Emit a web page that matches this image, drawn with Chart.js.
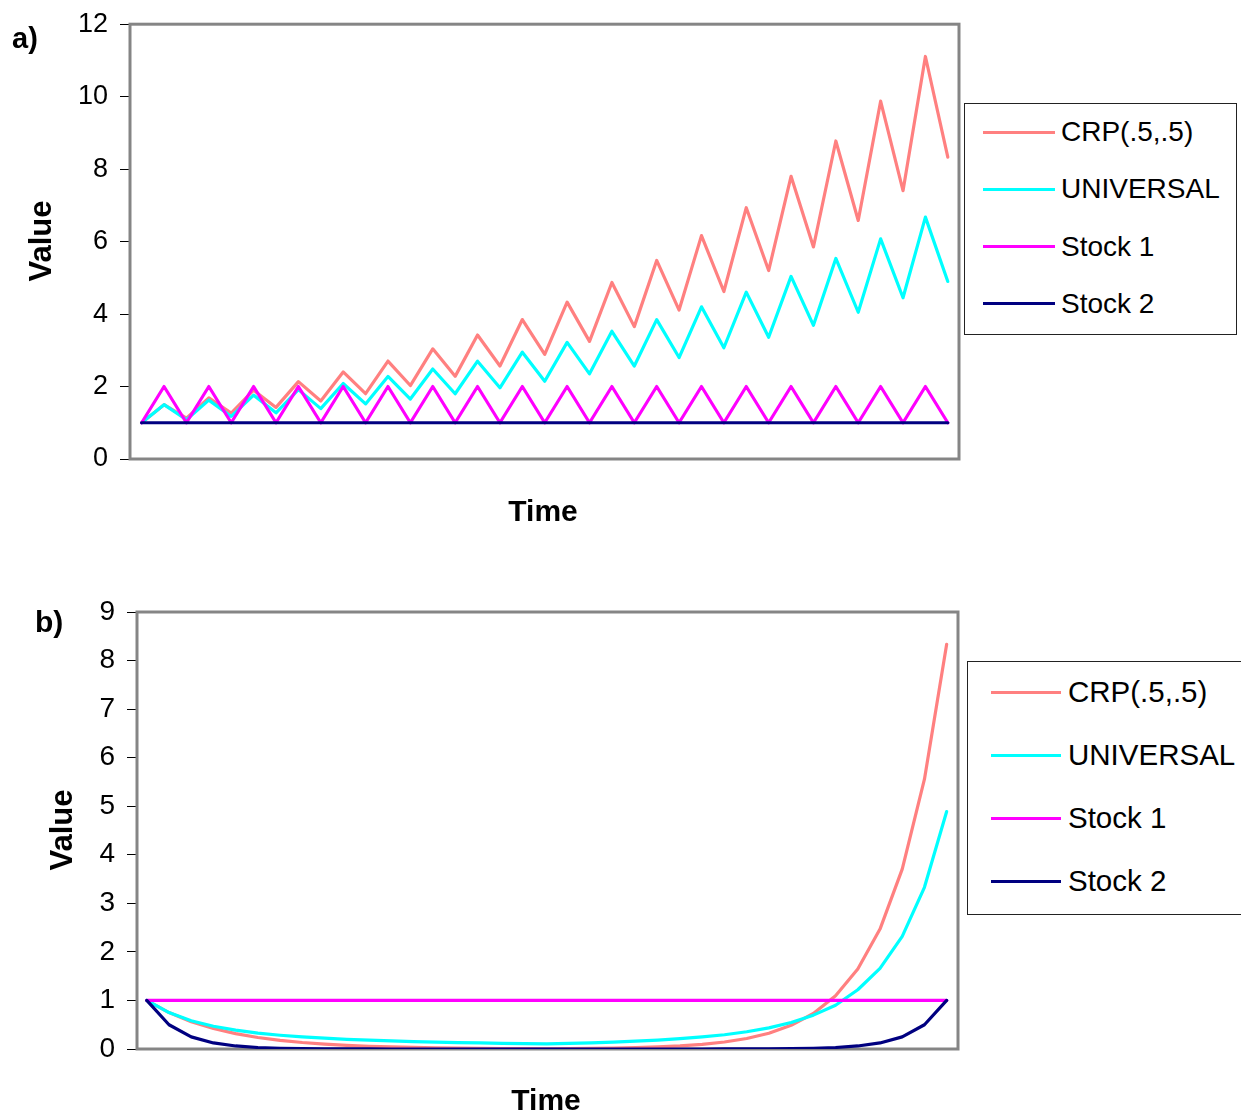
<!DOCTYPE html>
<html>
<head>
<meta charset="utf-8">
<script src="https://cdn.jsdelivr.net/npm/chart.js@4.4.1/dist/chart.umd.min.js"></script>
<style>
  html, body { margin: 0; padding: 0; background: #fff; }
  body { width: 1241px; height: 1116px; position: relative; overflow: hidden;
         font-family: "Liberation Sans", Arial, sans-serif; color: #000; }
  .abs { position: absolute; white-space: nowrap; line-height: 1; }
  .center { transform: translate(-50%, -50%); }
  .bold { font-weight: bold; }
  .rot { transform: translate(-50%, -50%) rotate(-90deg); }
  .legend { position: absolute; border: 1px solid #222; background: #fff; box-sizing: border-box; }
  .legend .ln { position: absolute; height: 3px; }
  .legend .tx { position: absolute; line-height: 1; transform: translateY(-50%); white-space: nowrap; }
  canvas { position: absolute; left: 0; }
</style>
</head>
<body>
<canvas id="chartA" width="1241" height="544" style="top:-4px"></canvas>
<canvas id="chartB" width="1241" height="556" style="top:560px"></canvas>

<div class="abs bold" style="left:12px; top:24px; font-size:29px;">a)</div>
<div class="abs bold rot" style="left:40px; top:241px; font-size:31px;">Value</div>
<div class="abs bold center" style="left:543px; top:511px; font-size:30px;">Time</div>

<div class="abs bold" style="left:35px; top:607px; font-size:30px;">b)</div>
<div class="abs bold rot" style="left:61px; top:830px; font-size:31px;">Value</div>
<div class="abs bold center" style="left:546px; top:1100px; font-size:30px;">Time</div>

<div id="legendA" class="legend" style="left:964px; top:103px; width:273px; height:232px;"></div>
<div id="legendB" class="legend" style="left:967px; top:661px; width:300px; height:254px;"></div>

<script>
// ---------- data ----------
const seriesNames = ["CRP(.5,.5)", "UNIVERSAL", "Stock 1", "Stock 2"];
const seriesColors = ["#FF8080", "#00FFFF", "#FF00FF", "#000080"];

const timeSteps = [0,1,2,3,4,5,6,7,8,9,10,11,12,13,14,15,16,17,18,19,20,21,22,23,24,25,26,27,28,29,30,31,32,33,34,35,36];

// Panel a)
const aCRP = [1, 1.5, 1.125, 1.6875, 1.2656, 1.8984, 1.4238, 2.1357, 1.6018, 2.4027, 1.802, 2.703, 2.0273, 3.0409, 2.2807, 3.421, 2.5658, 3.8487, 2.8865, 4.3298, 3.2473, 4.871, 3.6532, 5.4798, 4.1099, 6.1648, 4.6236, 6.9354, 5.2016, 7.8023, 5.8518, 8.7776, 6.5833, 9.875, 7.4062, 11.1093, 8.3319];
const aUniversal = [1, 1.5, 1.083, 1.625, 1.175, 1.763, 1.276, 1.914, 1.39, 2.085, 1.52, 2.28, 1.655, 2.483, 1.8, 2.7, 1.965, 2.948, 2.145, 3.218, 2.35, 3.525, 2.565, 3.848, 2.8, 4.2, 3.07, 4.605, 3.36, 5.04, 3.69, 5.535, 4.05, 6.075, 4.45, 6.675, 4.9];
const aStock1 = [1, 2, 1, 2, 1, 2, 1, 2, 1, 2, 1, 2, 1, 2, 1, 2, 1, 2, 1, 2, 1, 2, 1, 2, 1, 2, 1, 2, 1, 2, 1, 2, 1, 2, 1, 2, 1];
const aStock2 = [1, 1, 1, 1, 1, 1, 1, 1, 1, 1, 1, 1, 1, 1, 1, 1, 1, 1, 1, 1, 1, 1, 1, 1, 1, 1, 1, 1, 1, 1, 1, 1, 1, 1, 1, 1, 1];
const aTicks = [0, 2, 4, 6, 8, 10, 12];

// Panel b)
const bCRP = [1, 0.75, 0.5625, 0.4219, 0.3164, 0.2373, 0.178, 0.1335, 0.1001, 0.0751, 0.0563, 0.0422, 0.0317, 0.0238, 0.0178, 0.0134, 0.01, 0.0075, 0.0056, 0.0085, 0.0127, 0.019, 0.0286, 0.0428, 0.0642, 0.0964, 0.1445, 0.2168, 0.3252, 0.4878, 0.7317, 1.0976, 1.6464, 2.4696, 3.7044, 5.5566, 8.3349];
const bUniversal = [1, 0.75, 0.583, 0.469, 0.3875, 0.328, 0.2835, 0.249, 0.222, 0.2, 0.182, 0.1667, 0.1538, 0.1429, 0.1333, 0.125, 0.1176, 0.1111, 0.1053, 0.1158, 0.128, 0.143, 0.161, 0.184, 0.212, 0.248, 0.294, 0.355, 0.436, 0.545, 0.697, 0.9, 1.22, 1.66, 2.32, 3.33, 4.89];
const bStock1 = [1, 1, 1, 1, 1, 1, 1, 1, 1, 1, 1, 1, 1, 1, 1, 1, 1, 1, 1, 1, 1, 1, 1, 1, 1, 1, 1, 1, 1, 1, 1, 1, 1, 1, 1, 1, 1];
const bStock2 = [1, 0.5, 0.25, 0.125, 0.0625, 0.03125, 0.015625, 0.0078, 0.0039, 0.00195, 0.00098, 0.00049, 0.00024, 0.00012, 0.00006, 0.00003, 0.000015, 0.0000076, 0.0000038, 0.0000076, 0.000015, 0.00003, 0.00006, 0.00012, 0.00024, 0.00049, 0.00098, 0.00195, 0.0039, 0.0078, 0.015625, 0.03125, 0.0625, 0.125, 0.25, 0.5, 1];
const bTicks = [0, 1, 2, 3, 4, 5, 6, 7, 8, 9];

// ---------- helpers ----------
Chart.defaults.font.family = '"Liberation Sans", Arial, sans-serif';
Chart.defaults.color = '#000';

const framePlugin = {
  id: 'frame',
  beforeDatasetsDraw(chart) {
    const { ctx, chartArea: { left, top, right, bottom } } = chart;
    ctx.save();
    ctx.strokeStyle = '#858585';
    ctx.lineWidth = 3;
    ctx.strokeRect(left, top, right - left, bottom - top);
    ctx.restore();
  }
};

function makeDatasets(seriesList) {
  return seriesList.map((vals, k) => ({
    label: seriesNames[k],
    data: vals.map((v, i) => ({ x: timeSteps[i], y: v })),
    borderColor: seriesColors[k],
    backgroundColor: seriesColors[k],
    borderWidth: 3.2,
    pointRadius: 0,
    tension: 0,
    fill: false,
    borderJoinStyle: 'round',
    borderCapStyle: 'round',
    order: seriesList.length - 1 - k
  }));
}

function makeChart(id, seriesList, ticks, opt) {
  return new Chart(document.getElementById(id), {
    type: 'line',
    data: { datasets: makeDatasets(seriesList) },
    plugins: [framePlugin],
    options: {
      responsive: false,
      animation: false,
      events: [],
      layout: { padding: { top: opt.padTop, right: opt.padRight, bottom: opt.padBottom, left: 0 } },
      plugins: { legend: { display: false }, tooltip: { enabled: false } },
      scales: {
        x: { type: 'linear', min: opt.xMin, max: opt.xMax, display: false },
        y: {
          type: 'linear',
          min: ticks[0],
          max: ticks[ticks.length - 1],
          afterBuildTicks(scale) { scale.ticks = ticks.map(v => ({ value: v })); },
          afterFit(scale) { scale.width = opt.yWidth; },
          ticks: { font: { size: opt.tickSize }, color: '#000', padding: 12, autoSkip: false },
          grid: { display: true, drawOnChartArea: false, drawTicks: true, tickLength: 10, color: '#000', lineWidth: 1 },
          border: { display: false }
        }
      }
    }
  });
}

function makeLegend(chart, elId, cfg) {
  const el = document.getElementById(elId);
  chart.data.datasets.forEach((ds, k) => {
    const y = cfg.firstRow + k * cfg.rowGap;
    const ln = document.createElement('div');
    ln.className = 'ln';
    ln.style.left = cfg.lineLeft + 'px';
    ln.style.width = cfg.lineLen + 'px';
    ln.style.top = (y - 1.5) + 'px';
    ln.style.background = ds.borderColor;
    el.appendChild(ln);
    const tx = document.createElement('div');
    tx.className = 'tx';
    tx.style.left = cfg.textLeft + 'px';
    tx.style.top = y + 'px';
    tx.style.fontSize = cfg.fontSize + 'px';
    tx.textContent = ds.label;
    el.appendChild(tx);
  });
}

const chartA = makeChart('chartA', [aCRP, aUniversal, aStock1, aStock2], aTicks,
  { padTop: 28, padRight: 282, padBottom: 81, yWidth: 130, xMin: -0.52, xMax: 36.5, tickSize: 27 });
const chartB = makeChart('chartB', [bCRP, bUniversal, bStock1, bStock2], bTicks,
  { padTop: 52, padRight: 283, padBottom: 67, yWidth: 137, xMin: -0.44, xMax: 36.51, tickSize: 28 });

makeLegend(chartA, 'legendA', { firstRow: 28, rowGap: 57.3, lineLeft: 18, lineLen: 72, textLeft: 96, fontSize: 28 });
makeLegend(chartB, 'legendB', { firstRow: 30, rowGap: 63, lineLeft: 23, lineLen: 70, textLeft: 100, fontSize: 29.5 });
</script>
</body>
</html>
